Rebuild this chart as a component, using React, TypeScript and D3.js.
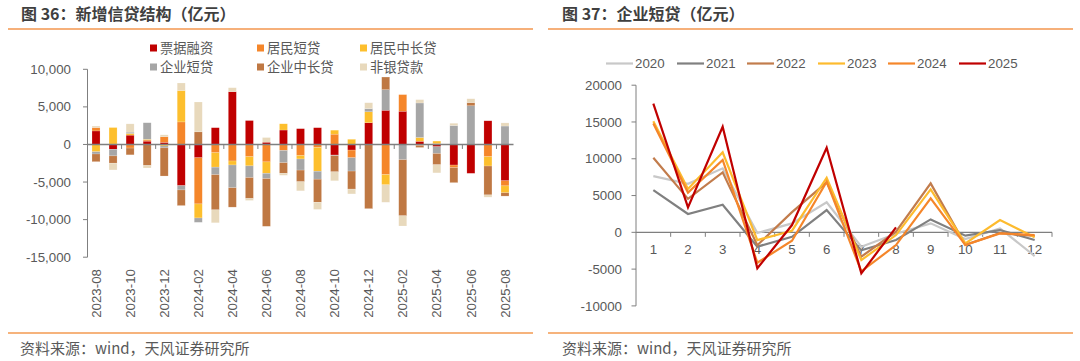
import React from "react";
import * as d3 from "d3";

// ---------- Left chart data: 新增信贷结构（亿元） ----------
const months = [
  "2023-08", "2023-09", "2023-10", "2023-11", "2023-12",
  "2024-01", "2024-02", "2024-03", "2024-04", "2024-05", "2024-06",
  "2024-07", "2024-08", "2024-09", "2024-10", "2024-11", "2024-12",
  "2025-01", "2025-02", "2025-03", "2025-04", "2025-05", "2025-06",
  "2025-07", "2025-08",
];
const seriesNames = ["票据融资", "居民短贷", "居民中长贷", "企业短贷", "企业中长贷", "非银贷款"];
const billFinancing = [1800, -640, 1240, 440, 280, -5480, -1770, 2230, 7020, 3180, 300, 1920, 2100, 2230, -1410, -750, 2890, 4550, 4420, 420, -300, -2740, -3840, 3150, -4830];
const householdShort = [450, 50, -480, 150, 750, 3000, -6140, -1100, -2200, -1630, -2320, -800, -1480, -400, 1370, -1020, 0, -4010, 2210, -150, 150, -350, 0, -1630, -680];
const householdLong = [-970, 2200, 220, 100, -200, 4180, -1870, -1920, -530, -1220, -1520, 830, -450, -3160, 530, 690, 1460, -1360, 0, 510, 300, 50, 50, -1240, -920];
const corpShort = [-300, -880, 180, 2200, -250, -570, -580, -1000, -3030, -1550, -700, -1630, -1480, -1060, -80, -1770, 420, 2740, -2030, 4590, -900, 2470, 5100, 0, 2450];
const corpLong = [-1020, -970, -900, -2800, -3750, -2080, 1680, -4680, -2580, -2790, -6350, -1410, -1550, -3070, -2150, -2400, -8540, 1680, -7460, -250, -1500, -1990, 420, -3840, -440];
const nonBank = [200, -900, 1100, -330, 250, 1000, 3970, -1720, 530, -260, 620, -260, -1210, -950, -1190, -640, 780, -2320, -1360, 440, -1080, 300, 510, -300, 420];
const leftTicks = [10000, 5000, 0, -5000, -10000, -15000];
const barColors = ["#C00000", "#F5862A", "#FDBF2D", "#A6A6A6", "#BF7843", "#E8D9BC"];

// ---------- Right chart data: 企业短贷（亿元） ----------
const monthLabels = ["1", "2", "3", "4", "5", "6", "7", "8", "9", "10", "11", "12"];
const yearNames = ["2020", "2021", "2022", "2023", "2024", "2025"];
const y2020 = [7650, 6600, 8700, -100, 1220, 4080, -1950, -200, 1220, -900, 540, -3220];
const y2021 = [5750, 2490, 3750, -1950, -600, 3030, -2450, -1050, 1760, -450, 310, -1050];
const y2022 = [10140, 4550, 8150, -1750, 2750, 6800, -3310, 80, 6660, -1700, -100, -500];
const y2023 = [15100, 5900, 10870, -1050, 220, 7420, -3770, -370, 5840, -1500, 1670, -680];
const y2024 = [14800, 5400, 9830, -4130, -1140, 6880, -5300, -1730, 4620, -1730, -140, -370];
const y2025 = [17500, 3400, 14350, -4890, 990, 11500, -5570, 680];
const rightTicks = [20000, 15000, 10000, 5000, 0, -5000, -10000];
const lineColors = ["#C8C8C8", "#808080", "#C27C4C", "#FDBB2E", "#F5862A", "#C00000"];

const LATIN = "'Liberation Sans', Arial, 'Noto Sans CJK SC', sans-serif";
const CJK = "'Noto Sans CJK SC', 'Liberation Sans', sans-serif";
const TXT = "#595959";

export default function App() {
  // ---- left chart ----
  const keys = ["s0", "s1", "s2", "s3", "s4", "s5"];
  const cols = [billFinancing, householdShort, householdLong, corpShort, corpLong, nonBank];
  const table = months.map((m, i) => {
    const row: any = { month: m };
    keys.forEach((k, j) => (row[k] = cols[j][i]));
    return row;
  });
  const stacked = d3.stack<any>().keys(keys).offset(d3.stackOffsetDiverging)(table);
  const xL = d3.scaleBand<string>().domain(months).range([87.5, 513.5]).paddingInner(0.53).paddingOuter(0.265);
  const yL = d3.scaleLinear().domain([-15000, 10000]).range([257.2, 69.3]);
  const fmt = (v: number) => d3.format(",")(v).replace("−", "-");
  const stepL = xL.step();
  const x0L = 87.5;

  // ---- right chart ----
  const xR = d3.scaleBand<string>().domain(monthLabels).range([636, 1052]);
  const yR = d3.scaleLinear().domain([-10000, 20000]).range([305.9, 85.2]);
  const yearSeries = [y2020, y2021, y2022, y2023, y2024, y2025];
  const lineGen = d3
    .line<number>()
    .x((_, i) => (xR(monthLabels[i]) as number) + xR.bandwidth() / 2)
    .y((d) => yR(d));

  const legendLeft = [
    { x: 150, y: 48 }, { x: 257, y: 48 }, { x: 360, y: 48 },
    { x: 150, y: 67 }, { x: 257, y: 67 }, { x: 360, y: 67 },
  ];
  const legendRightX = [606, 677, 747, 818, 888, 959];

  return (
    <svg width={1080} height={361} style={{ position: "absolute", left: 0, top: 0, background: "#fff" }}>
      <rect x={0} y={0} width={1080} height={361} fill="#fff" />
      {/* titles */}
      <text x={21} y={19.5} fontFamily={CJK} fontWeight={700} fontSize={16} fill="#3F3F3F">图 36：新增信贷结构（亿元）</text>
      <text x={562} y={19.5} fontFamily={CJK} fontWeight={700} fontSize={16} fill="#3F3F3F">图 37：企业短贷（亿元）</text>
      <line x1={8} x2={533} y1={29} y2={29} stroke="#F6B07A" strokeWidth={2} />
      <line x1={548} x2={1073} y1={29} y2={29} stroke="#F6B07A" strokeWidth={2} />
      <line x1={8} x2={533} y1={333} y2={333} stroke="#F39A50" strokeWidth={1.3} />
      <line x1={548} x2={1073} y1={333} y2={333} stroke="#F39A50" strokeWidth={1.3} />
      <text x={20} y={354} fontFamily={CJK} fontSize={15} fill={TXT}>资料来源：wind，天风证券研究所</text>
      <text x={562} y={354} fontFamily={CJK} fontSize={15} fill={TXT}>资料来源：wind，天风证券研究所</text>

      {/* ===== left chart ===== */}
      {seriesNames.map((n, i) => (
        <g key={n}>
          <rect x={legendLeft[i].x} y={legendLeft[i].y - 3.5} width={7} height={7} fill={barColors[i]} />
          <text x={legendLeft[i].x + 10} y={legendLeft[i].y + 4.6} fontFamily={CJK} fontSize={13.3} fill={TXT}>{n}</text>
        </g>
      ))}
      {stacked.map((layer, si) => (
        <g key={si} fill={barColors[si]}>
          {layer.map((d, i) => {
            const y0 = yL(d[0]);
            const y1 = yL(d[1]);
            return (
              <rect key={i} x={xL(months[i])} width={xL.bandwidth()} y={Math.min(y0, y1)} height={Math.abs(y1 - y0)}
                stroke="#fff" strokeOpacity={0.35} strokeWidth={0.5} />
            );
          })}
        </g>
      ))}
      <line x1={x0L} x2={x0L} y1={yL(10000)} y2={yL(-15000)} stroke="#7F7F7F" strokeWidth={1} />
      {leftTicks.map((t) => (
        <g key={t}>
          <line x1={x0L - 4.5} x2={x0L} y1={yL(t)} y2={yL(t)} stroke="#7F7F7F" strokeWidth={1} />
          <text x={71} y={yL(t) + 4.6} textAnchor="end" fontFamily={LATIN} fontSize={13.3} fill={TXT}>{fmt(t)}</text>
        </g>
      ))}
      <line x1={x0L} x2={513.5} y1={yL(0)} y2={yL(0)} stroke="#7F7F7F" strokeWidth={1.5} />
      {months.map((m, i) =>
        i % 2 === 0 && i > 0 ? (
          <line key={"t" + m} x1={x0L + i * stepL} x2={x0L + i * stepL} y1={yL(0)} y2={yL(0) + 4.5} stroke="#7F7F7F" strokeWidth={1} />
        ) : null
      )}
      {months.map((m, i) =>
        i % 2 === 0 ? (
          <text key={"l" + m} transform={`translate(${(xL(m) as number) + xL.bandwidth() / 2},269) rotate(-90)`}
            textAnchor="end" dy="0.35em" fontFamily={LATIN} fontSize={13.3} fill={TXT}>{m}</text>
        ) : null
      )}

      {/* ===== right chart ===== */}
      {yearNames.map((n, i) => (
        <g key={n}>
          <line x1={legendRightX[i]} x2={legendRightX[i] + 27} y1={63.5} y2={63.5} stroke={lineColors[i]} strokeWidth={2.2} />
          <text x={legendRightX[i] + 29} y={68.2} fontFamily={LATIN} fontSize={13.3} fill={TXT}>{n}</text>
        </g>
      ))}
      <line x1={636} x2={636} y1={yR(20000)} y2={yR(-10000)} stroke="#7F7F7F" strokeWidth={1} />
      {rightTicks.map((t) => (
        <g key={t}>
          <line x1={631.5} x2={636} y1={yR(t)} y2={yR(t)} stroke="#7F7F7F" strokeWidth={1} />
          <text x={622} y={yR(t) + 4.6} textAnchor="end" fontFamily={LATIN} fontSize={13.3} fill={TXT}>{String(t).replace("−", "-")}</text>
        </g>
      ))}
      <line x1={636} x2={1052} y1={yR(0)} y2={yR(0)} stroke="#7F7F7F" strokeWidth={1.3} />
      {monthLabels.map((m, i) => (
        <g key={m}>
          <line x1={636 + (i + 1) * xR.step()} x2={636 + (i + 1) * xR.step()} y1={yR(0)} y2={yR(0) + 4.5} stroke="#7F7F7F" strokeWidth={1} />
          <text x={(xR(m) as number) + xR.bandwidth() / 2} y={254} textAnchor="middle" fontFamily={LATIN} fontSize={13.3} fill={TXT}>{m}</text>
        </g>
      ))}
      {yearSeries.map((s, i) => (
        <path key={i} d={lineGen(s) as string} fill="none" stroke={lineColors[i]} strokeWidth={2.2} strokeLinejoin="miter" />
      ))}
    </svg>
  );
}
